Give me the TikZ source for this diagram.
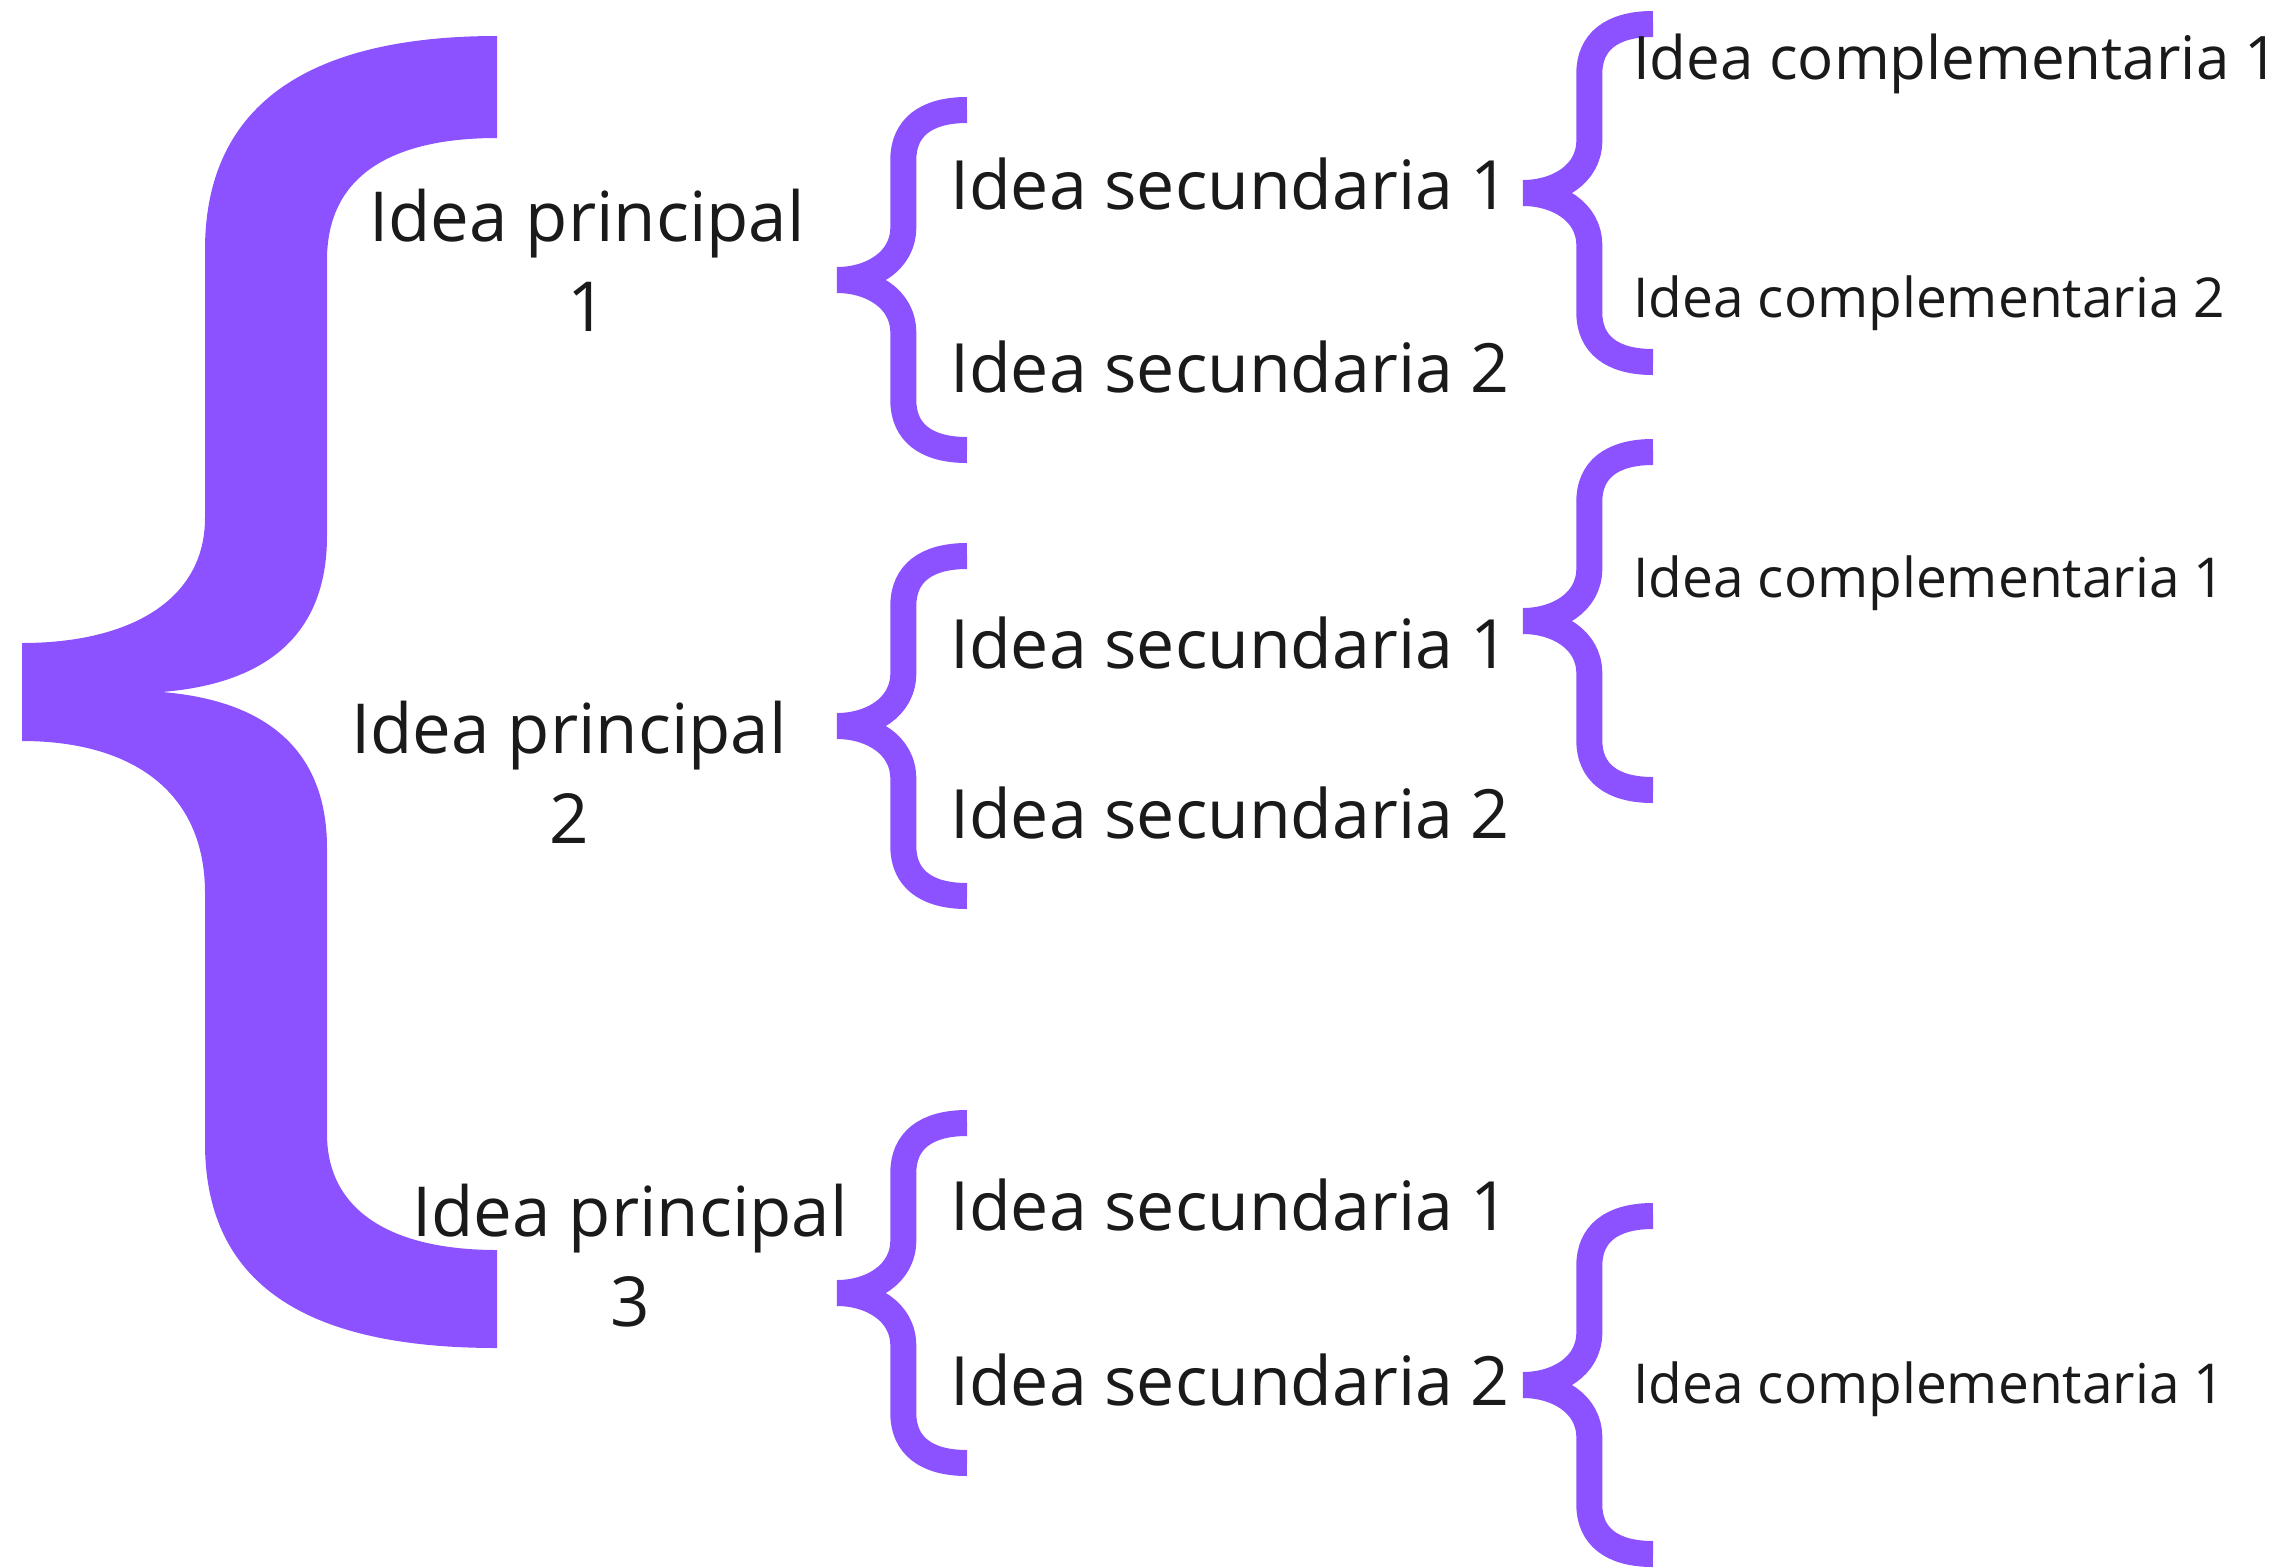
\documentclass[tikz,border=0pt]{standalone}
\usepackage{fontspec}
\setmainfont{Open Sans}
\definecolor{bpurple}{HTML}{8C52FF}
\definecolor{txt}{HTML}{1A1A1A}
\tikzset{
  cbrace/.pic={
    \draw[line cap=butt, line join=bevel]
      (1,1) .. controls (0.68,1) and (0.51,0.894) .. (0.51,0.706)
      -- (0.51,0.31) .. controls (0.51,0.106) and (0.254,0) .. (0,0)
      .. controls (0.254,0) and (0.51,-0.106) .. (0.51,-0.31)
      -- (0.51,-0.706) .. controls (0.51,-0.894) and (0.68,-1) .. (1,-1);
  },
  secbrace/.style={draw=bpurple, line width=26pt, xscale=130, yscale=170},
  compbrace/.style={draw=bpurple, line width=26pt, xscale=130, yscale=169},
  sec/.style={anchor=base west, inner sep=0pt, font=\fontsize{68}{80}\selectfont, text=txt},
  comp/.style={anchor=base west, inner sep=0pt, font=\fontsize{55}{64}\selectfont, text=txt},
  prin/.style={anchor=base, align=center, inner sep=0pt, font=\fontsize{69}{90}\selectfont, text=txt}
}
\begin{document}
\begin{tikzpicture}[x=1pt,y=1pt]
\useasboundingbox (0,0) rectangle (2278,-1567);
\fill[white] (0,0) rectangle (2278,-1567);

% big brace
\fill[bpurple] (497,-36) .. controls (330,-36) and (205,-90) .. (205,-250)
 -- (205,-518) .. controls (205,-600) and (130,-643) .. (22,-643)
 -- (22,-741) .. controls (130,-741) and (205,-790) .. (205,-893)
 -- (205,-1143) .. controls (205,-1300) and (330,-1348) .. (497,-1348)
 -- (497,-1250) .. controls (390,-1250) and (327,-1210) .. (327,-1134)
 -- (327,-848) .. controls (327,-745) and (260,-700) .. (162,-692)
 .. controls (260,-684) and (327,-640) .. (327,-536)
 -- (327,-260) .. controls (327,-170) and (400,-138) .. (497,-138) -- cycle;

% secondary braces
\pic[secbrace] at (837,-280) {cbrace};
\pic[secbrace] at (837,-726) {cbrace};
\pic[secbrace] at (837,-1293) {cbrace};
% complementary braces
\pic[compbrace] at (1523,-193) {cbrace};
\pic[compbrace] at (1523,-621) {cbrace};
\pic[compbrace] at (1523,-1385) {cbrace};

% principal ideas
\node[prin] (p1) at (587,-331) {Idea principal\\1};
\node[prin] (p2) at (569,-843) {Idea principal\\2};
\node[prin] (p3) at (630,-1326) {Idea principal\\3};

% secondary ideas
\node[sec] (s11) at (950,-209) {Idea secundaria 1};
\node[sec] (s12) at (950,-392) {Idea secundaria 2};
\node[sec] (s21) at (950,-668) {Idea secundaria 1};
\node[sec] (s22) at (950,-838) {Idea secundaria 2};
\node[sec] (s31) at (950,-1230) {Idea secundaria 1};
\node[sec] (s32) at (950,-1405) {Idea secundaria 2};

% complementary ideas
\node[comp, font=\fontsize{60}{70}\selectfont] (c11) at (1633,-79) {Idea complementaria 1};
\node[comp] (c12) at (1633,-317) {Idea complementaria 2};
\node[comp] (c21) at (1633,-597) {Idea complementaria 1};
\node[comp] (c31) at (1633,-1403) {Idea complementaria 1};
\end{tikzpicture}
\end{document}
